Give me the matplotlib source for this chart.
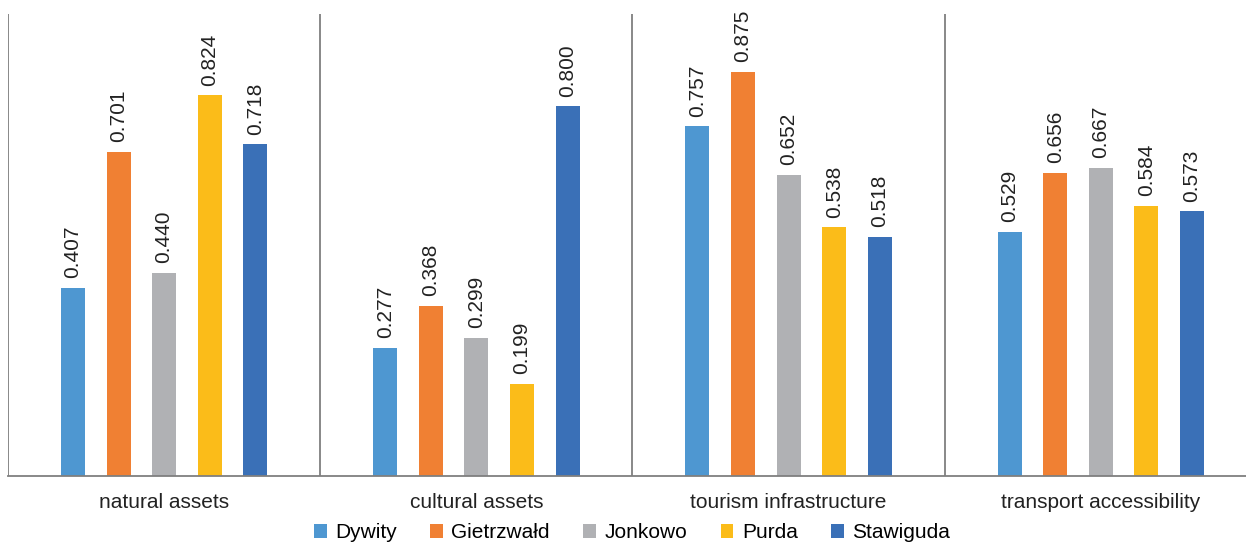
import matplotlib.pyplot as plt
import numpy as np

plt.rcParams['font.family'] = ['Liberation Sans', 'DejaVu Sans']

# criteria and communes
categories = ['natural assets', 'cultural assets', 'tourism infrastructure', 'transport accessibility']
communes = ['Dywity', 'Gietrzwałd', 'Jonkowo', 'Purda', 'Stawiguda']
colors = ['#4E97D1', '#F08033', '#B0B1B4', '#FBBC19', '#3A70B7']

dywity = [0.407, 0.277, 0.757, 0.529]
gietrzwald = [0.701, 0.368, 0.875, 0.656]
jonkowo = [0.440, 0.299, 0.652, 0.667]
purda = [0.824, 0.199, 0.538, 0.584]
stawiguda = [0.718, 0.800, 0.518, 0.573]
series = [dywity, gietrzwald, jonkowo, purda, stawiguda]

fig = plt.figure(figsize=(12.46, 5.42), dpi=100)
# axis runs a bit past the right edge of the canvas
ax = fig.add_axes([8 / 1246, 66 / 542, 1249 / 1246, 462 / 542])

x = np.arange(len(categories))
step = 0.146
width = 0.077
for i, (name, vals, c) in enumerate(zip(communes, series, colors)):
    pos = x + (i - 2) * step
    ax.bar(pos, vals, width, color=c, label=name)
    for px, v in zip(pos, vals):
        ax.annotate('%.3f' % v, (px, v), xytext=(0, 7), textcoords='offset points',
                    rotation=90, ha='center', va='bottom', fontsize=15, color='#222222')

ax.set_xlim(-0.5, len(categories) - 0.5)
ax.set_ylim(0, 1.0)
ax.set_yticks([])
ax.set_xticks(x)
ax.set_xticklabels(categories, fontsize=15, color='#222222')
ax.tick_params(axis='x', length=0, pad=12)

# group separators
for b in np.arange(len(categories) + 1) - 0.5:
    ax.axvline(b, color='#7F7F7F', linewidth=1.3)

for s in ['top', 'right', 'left']:
    ax.spines[s].set_visible(False)
ax.spines['bottom'].set_color('#7F7F7F')
ax.spines['bottom'].set_linewidth(1.3)

fig.legend(loc='center', bbox_to_anchor=(632 / 1246, 9 / 542), ncol=5, frameon=False,
           fontsize=15, handlelength=0.62, handleheight=0.62, handletextpad=0.4,
           columnspacing=1.6)

plt.savefig('out.png', dpi=100)
